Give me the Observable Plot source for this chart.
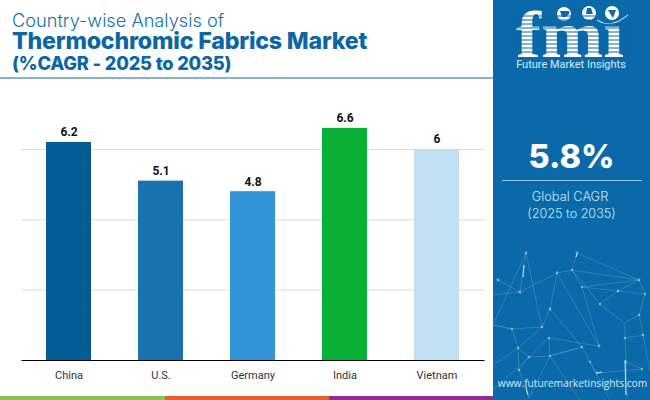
<!DOCTYPE html>
<html><head><meta charset="utf-8">
<script src="https://cdn.jsdelivr.net/npm/d3@7"></script>
<script src="https://cdn.jsdelivr.net/npm/@observablehq/plot@0.6"></script>
<style>
html,body{margin:0;padding:0;background:#fff;width:650px;height:400px;overflow:hidden}
#wrap{position:relative;width:650px;height:400px;font-family:Inter,"Open Sans",sans-serif}
#chart{position:absolute;left:0;top:0}
.t{position:absolute;white-space:nowrap;line-height:1}
#panel{position:absolute;left:493px;top:0;width:157px;height:400px;background:#0a69a8}
.c{position:absolute;left:493px;width:157px;text-align:center;color:#fff;white-space:nowrap;line-height:1}
.s{position:absolute;top:396px;height:4px}
</style></head><body>
<div id="wrap">
<div id="chart"></div>
<div class="t" style="left:12px;top:10.5px;font-size:18.2px;color:#1270ab;font-weight:300">Country-wise Analysis of</div>
<div class="t" style="left:12px;top:29.5px;font-size:23.2px;color:#0b66a3;font-weight:800;letter-spacing:-.2px">Thermochromic Fabrics Market</div>
<div class="t" style="left:12px;top:54px;font-size:18.3px;color:#0b66a3;font-weight:800;letter-spacing:-.2px">(%CAGR - 2025 to 2035)</div>
<div style="position:absolute;left:0;top:77px;width:493px;height:2px;background:#8cb3c9"></div>
<div class="s" style="left:0;width:165px;background:#8cc04b"></div>
<div class="s" style="left:165px;width:164px;background:#e55f2f"></div>
<div class="s" style="left:329px;width:164px;background:#8d2f92"></div>
<div id="panel"></div>
<svg style="position:absolute;left:0;top:0" width="650" height="400" aria-hidden="true">
<g fill="none" stroke="#7fc0cf" stroke-opacity=".5" stroke-width=".6">
<path d="M526 253L520 292L498 280M526 253L493 325M526 253L542 327M520 292L557 273L572 270L577 253L639 280L572 270L582 287L639 280M557 273L550 309L542 327L512 329L493 325M557 273L599 346M572 270L600 304L624 323L639 315L645 294L618 291L582 287M618 291L600 304M618 291L639 280L645 294M582 287L599 346M550 309L582 347L550 356L549 338L599 346M542 327L518 348L529 357L550 356L582 347L590 362L597 373L642 369M512 329L518 348L519 370L529 398M512 329L493 325M549 338L529 357L519 370M550 356L529 398M624 323L625 338L643 335L639 315M625 338L626 362L627 398M643 335L650 370M626 362L642 369M493 365L518 348M493 390L529 357M520 292L493 295M590 362L610 400M550 356L580 400"/>
</g>
<g fill="#9cc7c9" fill-opacity=".75">
<circle cx="526" cy="253" r="1.4"/><circle cx="577" cy="253" r="1.4"/><circle cx="557" cy="273" r="1.4"/><circle cx="572" cy="270" r="1.2"/><circle cx="639" cy="280" r="1.4"/><circle cx="498" cy="280" r="1.4"/><circle cx="520" cy="292" r="1.4"/><circle cx="582" cy="287" r="1.2"/><circle cx="618" cy="291" r="1.4"/><circle cx="645" cy="294" r="1.2"/><circle cx="600" cy="304" r="1.2"/><circle cx="550" cy="309" r="1.4"/><circle cx="639" cy="315" r="1.3"/><circle cx="512" cy="329" r="1.3"/><circle cx="542" cy="327" r="1.3"/><circle cx="549" cy="338" r="1.3"/><circle cx="625" cy="338" r="1.3"/><circle cx="643" cy="335" r="1.4"/><circle cx="599" cy="346" r="1.4"/><circle cx="582" cy="347" r="1.3"/><circle cx="518" cy="348" r="1.3"/><circle cx="529" cy="357" r="1.3"/><circle cx="550" cy="356" r="1.3"/><circle cx="590" cy="362" r="1.3"/><circle cx="626" cy="362" r="1.3"/><circle cx="642" cy="369" r="1.2"/><circle cx="519" cy="370" r="1.3"/><circle cx="597" cy="373" r="1.3"/>
</g>
<g stroke="#fff" stroke-width="1" stroke-opacity=".85"><path d="M524 265L523 277M577 254L576 257M597 373L602 372M526 387L528 395M625 360L626 395"/></g>
<g fill="#fff">
<text x="516" y="57" font-family="'Liberation Serif',serif" font-weight="700" font-size="66" textLength="108" lengthAdjust="spacingAndGlyphs">fmi</text>
</g>
<rect x="598" y="0" width="30" height="22" fill="#0a69a8"/>
<g fill="#fff"><circle cx="564" cy="14" r="7"/><circle cx="589" cy="13" r="7"/><circle cx="612" cy="13" r="7"/></g>
<g fill="#0a69a8"><path d="M560 11h9v3l-3 3h-4zM587 8h4l2 6h-7zM608 10h8l-3 8z"/></g>
<path d="M597 20Q610 30 628 15" fill="none" stroke="#fff" stroke-width="1"/>
<g stroke="#0a69a8" stroke-width="1.1"><path d="M515 16H596M515 20H590M515 24H630M515 28H630M515 32H630M515 36H630M515 40H630M515 44H630M515 48H630M515 52H630"/></g>
</svg>
<div class="c" style="top:59px;left:492.5px;font-size:11px;color:#dcecf6;font-family:Roboto">Future Market Insights</div>
<div class="c" style="top:141px;left:493px;font-size:32.5px;font-weight:800">5.8%</div>
<div style="position:absolute;left:502px;top:180px;width:140px;height:1.2px;background:#9cc6e2"></div>
<div class="c" style="top:190.5px;font-size:12.8px;color:#cfe6f5;font-weight:300;left:491.5px">Global CAGR</div>
<div class="c" style="top:207.5px;font-size:12.6px;color:#cfe6f5;font-weight:300;left:493px">(2025 to 2035)</div>
<div class="c" style="top:378px;left:494px;font-size:10.2px;color:#dcecf6;font-family:'Open Sans',sans-serif">www.futuremarketinsights.com</div>
</div>
<script>
const countries = ["China","U.S.","Germany","India","Vietnam"];
const cagr = [6.2,5.1,4.8,6.6,6];
const barColors = ["#035c94","#1a72ae","#3194d6","#08b035","#c2e0f3"];
const gridTicks = [2,4,6];
const rows = countries.map((country,i)=>({country,value:cagr[i],color:barColors[i]}));
const chart = Plot.plot({
  width:650,height:400,
  marginLeft:21.5,marginRight:165.5,marginTop:100,marginBottom:40,
  style:{background:"transparent",fontFamily:"Roboto,sans-serif"},
  x:{domain:countries,paddingInner:.51,paddingOuter:.255,label:null},
  y:{domain:[0,260/35.17],label:null,axis:null},
  marks:[
    Plot.ruleY(gridTicks,{stroke:"#dcdcdc",strokeWidth:1,strokeOpacity:1}),
    Plot.barY(rows,{x:"country",y:"value",fill:"color"}),
    Plot.ruleY([0],{stroke:"#000",strokeWidth:1.2}),
    Plot.text(rows,{x:"country",y:"value",text:d=>String(d.value),dy:-10,fontSize:12,fontWeight:700,fill:"#111"}),
    Plot.axisX({tickSize:0,tickPadding:11,fontSize:11,color:"#333",label:null,anchor:"bottom"})
  ]
});
document.getElementById("chart").appendChild(chart);
</script>
</body></html>
